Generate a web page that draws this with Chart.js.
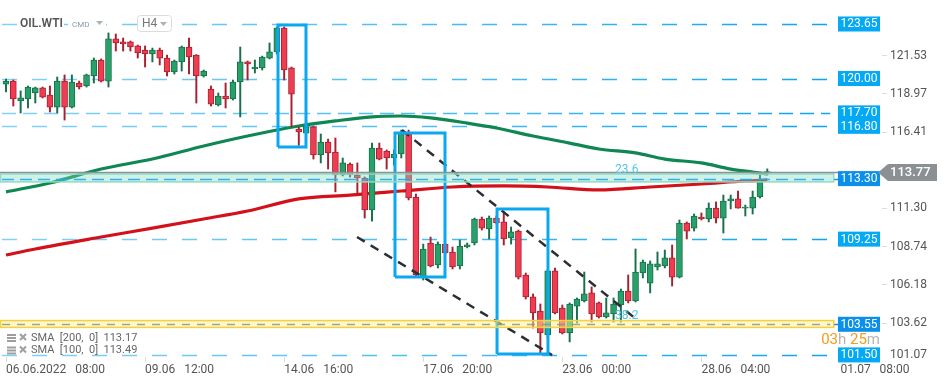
<!DOCTYPE html>
<html>
<head>
<meta charset="utf-8">
<script src="https://cdn.jsdelivr.net/npm/chart.js@4.4.0/dist/chart.umd.min.js"></script>
<style>
  html, body { margin: 0; padding: 0; background: #fff; }
  canvas { display: block; }
</style>
</head>
<body>
<canvas id="chart" width="949" height="385"></canvas>
<script>
// H4 candles, OIL.WTI, 06.06.2022 08:00 onwards
const opens = [
  119.63, 119.83, 118.50, 118.63, 119.03, 119.37, 118.90, 118.09, 119.83, 118.09,
  119.70, 119.50, 120.17, 121.24, 119.83, 122.65, 122.45, 122.45, 122.18, 121.91,
  121.64, 121.91, 121.37, 120.44, 121.11, 122.11, 121.57, 120.17, 119.30, 118.23,
  118.83, 118.63, 119.77, 121.11, 120.64, 120.71, 121.37, 121.78, 123.38, 120.71,
  116.62, 116.35, 116.76, 114.88, 115.75, 115.08, 113.54, 114.28, 113.54, 113.34,
  111.20, 115.35, 115.15, 114.68, 114.95, 116.35, 112.07, 106.71, 108.99, 107.52,
  108.92, 108.39, 107.45, 108.72, 108.99, 110.60, 109.93, 110.66, 110.40, 109.33,
  109.79, 106.85, 105.38, 104.44, 102.83, 107.12, 104.64, 102.97, 104.77, 105.11,
  105.65, 104.98, 104.04, 104.24, 104.84, 105.78, 105.11, 106.98, 106.31, 107.39,
  107.45, 107.99, 106.71, 110.33, 109.99, 110.73, 110.60, 111.33, 110.66, 111.80,
  111.94, 111.33, 111.33, 112.07, 113.66
];
const highs = [
  119.97, 119.90, 119.17, 119.50, 119.43, 119.43, 119.50, 120.10, 120.24, 120.24,
  119.83, 120.30, 121.37, 121.31, 123.05, 122.98, 122.71, 122.51, 122.24, 122.18,
  122.04, 122.04, 121.57, 121.24, 122.18, 122.71, 121.60, 120.57, 119.50, 119.03,
  119.70, 119.90, 122.11, 121.17, 121.24, 121.50, 122.38, 123.45, 123.45, 120.77,
  116.76, 117.22, 116.82, 116.29, 115.95, 116.02, 114.68, 114.35, 114.35, 113.41,
  115.68, 115.68, 115.22, 115.22, 116.55, 116.55, 112.27, 108.92, 109.39, 109.06,
  108.99, 108.72, 109.19, 108.99, 110.66, 110.73, 110.80, 110.80, 111.07, 110.06,
  109.86, 106.98, 105.58, 104.91, 107.18, 107.32, 104.84, 104.98, 105.31, 107.05,
  106.05, 105.04, 105.31, 105.31, 105.91, 106.85, 108.59, 107.85, 107.79, 108.39,
  108.52, 108.86, 110.53, 110.40, 110.93, 111.00, 111.67, 111.74, 112.20, 112.20,
  112.47, 111.53, 112.47, 113.54, 113.95
];
const lows = [
  119.10, 118.16, 117.69, 118.03, 118.36, 118.70, 117.76, 117.69, 117.22, 118.03,
  119.30, 119.43, 119.70, 119.77, 119.43, 121.84, 121.84, 121.84, 121.37, 120.77,
  121.11, 120.91, 120.17, 120.30, 120.50, 120.30, 118.36, 120.10, 118.16, 118.16,
  118.03, 118.56, 117.43, 119.90, 120.37, 120.57, 121.31, 121.64, 119.90, 116.76,
  115.53, 116.22, 114.61, 114.35, 113.94, 112.41, 113.48, 113.41, 112.34, 110.66,
  110.46, 114.55, 113.94, 114.21, 114.68, 111.87, 106.71, 106.51, 107.39, 107.32,
  108.19, 107.25, 107.25, 108.66, 108.86, 109.86, 109.26, 110.26, 108.86, 108.92,
  106.58, 105.24, 103.30, 101.63, 102.63, 104.24, 102.90, 102.37, 103.64, 105.04,
  103.70, 103.97, 103.97, 103.70, 103.70, 104.98, 105.04, 106.65, 105.65, 107.18,
  107.32, 106.11, 106.65, 109.26, 109.79, 110.53, 110.40, 110.33, 109.66, 111.27,
  111.33, 110.80, 110.93, 112.00, 113.54
];
const closes = [
  119.83, 118.63, 118.70, 119.43, 119.37, 118.76, 118.09, 119.83, 118.09, 119.77,
  119.43, 120.24, 121.24, 119.83, 122.65, 122.38, 122.31, 122.11, 121.71, 121.64,
  121.91, 121.37, 120.44, 121.17, 122.11, 121.44, 120.17, 120.50, 118.29, 118.83,
  118.63, 119.77, 121.11, 120.97, 120.77, 121.44, 121.78, 123.38, 120.57, 118.96,
  116.42, 116.76, 114.88, 115.75, 115.02, 113.54, 114.35, 113.54, 113.34, 111.20,
  115.35, 114.61, 114.68, 114.95, 116.42, 112.00, 106.85, 108.59, 107.45, 108.92,
  108.32, 107.39, 108.79, 108.86, 110.60, 109.99, 110.66, 110.33, 109.26, 109.73,
  106.71, 105.38, 104.31, 102.97, 107.12, 104.31, 102.97, 104.91, 105.24, 105.58,
  104.24, 104.04, 104.31, 104.91, 105.78, 105.11, 107.05, 107.72, 107.59, 107.59,
  107.99, 106.71, 110.33, 109.79, 110.80, 110.60, 111.33, 110.66, 111.80, 111.94,
  111.33, 111.40, 112.07, 113.14, 113.77
];

// moving averages, read at some candles
const sma100Idx = [0, 6, 13, 20, 27, 33, 40, 45, 50, 54, 58, 63, 67, 72, 77, 81, 86, 90, 95, 99, 102, 104];
const sma100Val = [112.41, 113.01, 113.94, 114.61, 115.48, 116.15, 116.82, 117.16, 117.43, 117.49, 117.36,
                   117.02, 116.69, 116.15, 115.68, 115.28, 115.02, 114.61, 114.35, 113.94, 113.74, 113.61];
const sma200Idx = [0, 4, 13, 20, 27, 33, 40, 47, 54, 61, 68, 74, 81, 88, 95, 101, 104];
const sma200Val = [108.19, 108.59, 109.39, 109.99, 110.60, 111.13, 111.94, 112.20, 112.47, 112.74, 112.81,
                   112.74, 112.54, 112.74, 112.94, 113.14, 113.21];

// x axis
const xTickIndex = [0, 19, 38, 57, 76, 95, 114];
const xTickLabels = ['06.06.2022   08:00', '09.06   12:00', '14.06   16:00', '17.06   20:00',
                     '23.06   00:00', '28.06   04:00', '01.07   08:00'];
// y axis
const yTickValues = [121.53, 118.97, 116.41, 111.30, 108.74, 106.18, 103.62];
const yEdgeTick = 101.07;
const lastPrice = 113.77;

// drawn levels, zones and channel
const levelValues = [123.65, 120.00, 117.70, 116.80, 113.30, 109.25, 103.55, 101.50];
const tealZone = [113.08, 113.61];
const yellowZone = [103.34, 103.80];
const trendUpperX = [54.1, 85.9], trendUpperY = [116.55, 103.97];
const trendLowerX = [47.95, 74.6], trendLowerY = [109.39, 101.49];
const box1X = [37.16, 40.98], box1Y = [115.42, 123.58];
const box2X = [53.14, 59.97], box2Y = [106.72, 116.35];
const box3X = [67.08, 74.04], box3Y = [101.56, 111.27];
const fibText = ['23.6', '38.2'];
const fibIdx = [83.2, 83.2];
const fibVal = [113.88, 104.11];
const smaLegend = ['SMA  [200,  0]  113.17', 'SMA  [100,  0]  113.49'];

// styles
const UP = '#27a06a', UP_LINE = '#17704a';
const DOWN = '#f03c50', DOWN_LINE = '#a8202f';
const FONT = 'Roboto, "Open Sans", sans-serif';
const levelEndIdx = 112.6;
const levelDash = [[15, 15], [15, 15], [14, 7], [15, 15], [12, 6], [15, 15], [8, 7], [15, 15]];
const levelBoxColor = ['#03a9f4', '#03a9f4', '#03a9f4', '#03a9f4', '#0a90ea', '#03a9f4', '#0a90ea', '#03a9f4'];
const inZone = [false, false, false, false, true, false, true, false];

const candles = opens.map((o, i) => ({ i, o, h: highs[i], l: lows[i], c: closes[i], up: closes[i] >= o }));

function rect(xs, ys) {
  return [
    { x: xs[0], y: ys[0] }, { x: xs[1], y: ys[0] }, { x: xs[1], y: ys[1] },
    { x: xs[0], y: ys[1] }, { x: xs[0], y: ys[0] }
  ];
}
function seg(xs, ys) {
  return xs.map((v, k) => ({ x: v, y: ys[k] }));
}

const boxStyle = {
  type: 'line', borderColor: '#0aa8f0', borderWidth: 3, pointRadius: 0,
  tension: 0, borderJoinStyle: 'miter', order: 0
};
const trendStyle = {
  type: 'line', borderColor: '#2b2f33', borderWidth: 2.5, borderDash: [9, 7],
  pointRadius: 0, tension: 0, order: 1
};

function drawZone(ctx, x0, x1, yTop, yBot, fill, line) {
  ctx.fillStyle = fill;
  ctx.fillRect(x0, yTop, x1 - x0, yBot - yTop);
  ctx.strokeStyle = line;
  ctx.lineWidth = 1.5;
  ctx.setLineDash([]);
  ctx.strokeRect(x0 + 0.5, yTop, x1 - x0 - 1, yBot - yTop);
}

function drawLevel(ctx, k, x0, x1, y) {
  const py = Math.round(y.getPixelForValue(levelValues[k])) + 0.5;
  ctx.setLineDash(levelDash[k]);
  ctx.beginPath();
  ctx.moveTo(x0, py);
  ctx.lineTo(x1, py);
  ctx.stroke();
  return py;
}

const overlay = {
  id: 'overlay',
  beforeDatasetsDraw(chart) {
    const { ctx, chartArea: a, scales: { x, y } } = chart;
    const xEnd = x.getPixelForValue(levelEndIdx);
    ctx.save();
    const grad = ctx.createLinearGradient(0, 0, xEnd, 0);
    grad.addColorStop(0, 'rgba(90,195,245,0.75)');
    grad.addColorStop(1, 'rgba(10,165,240,1)');
    ctx.strokeStyle = grad;
    ctx.lineWidth = 1.5;
    levelValues.forEach((v, k) => {
      if (!inZone[k]) drawLevel(ctx, k, a.left + 2, xEnd, y);
    });
    ctx.restore();
  },
  afterDatasetsDraw(chart) {
    const { ctx, chartArea: a, scales: { x, y } } = chart;
    const xEnd = x.getPixelForValue(levelEndIdx);
    const zoneRight = xEnd + 4;
    ctx.save();

    // zones
    drawZone(ctx, a.left, zoneRight, y.getPixelForValue(tealZone[1]), y.getPixelForValue(tealZone[0]),
      'rgba(125,220,195,0.38)', '#8fdcc6');
    drawZone(ctx, a.left, zoneRight, y.getPixelForValue(yellowZone[1]), y.getPixelForValue(yellowZone[0]),
      'rgba(255,238,150,0.5)', '#f3d23c');

    // levels inside zones
    ctx.lineWidth = 1.5;
    levelValues.forEach((v, k) => {
      if (!inZone[k]) return;
      ctx.strokeStyle = levelValues[k] > 110 ? 'rgba(40,170,235,0.9)' : 'rgba(120,150,140,0.8)';
      drawLevel(ctx, k, a.left + 2, xEnd, y);
    });

    // current price line
    const pyLast = Math.round(y.getPixelForValue(lastPrice)) + 0.5;
    ctx.setLineDash([]);
    ctx.strokeStyle = '#8c9194';
    ctx.lineWidth = 1.5;
    ctx.beginPath();
    ctx.moveTo(a.left, pyLast);
    ctx.lineTo(a.right - 4, pyLast);
    ctx.stroke();

    // level boxes
    ctx.font = '12px ' + FONT;
    ctx.textAlign = 'center';
    ctx.textBaseline = 'middle';
    const bx = a.right - 44;
    levelValues.forEach((v, k) => {
      const py = y.getPixelForValue(v);
      if (inZone[k]) {
        ctx.strokeStyle = levelBoxColor[k];
        ctx.lineWidth = 1.5;
        ctx.beginPath();
        ctx.moveTo(zoneRight, Math.round(py) + 0.5);
        ctx.lineTo(bx, Math.round(py) + 0.5);
        ctx.stroke();
      }
      ctx.fillStyle = levelBoxColor[k];
      ctx.fillRect(bx, py - 7.5, 42, 15);
      ctx.fillStyle = '#fff';
      ctx.fillText(v.toFixed(2), bx + 21, py + 0.5);
    });

    // price tag
    ctx.fillStyle = '#8a9093';
    ctx.beginPath();
    ctx.moveTo(a.right - 4, pyLast);
    ctx.lineTo(a.right + 6, pyLast - 8.5);
    ctx.lineTo(a.right + 55, pyLast - 8.5);
    ctx.lineTo(a.right + 55, pyLast + 8.5);
    ctx.lineTo(a.right + 6, pyLast + 8.5);
    ctx.closePath();
    ctx.fill();
    ctx.fillStyle = '#fff';
    ctx.font = '500 13px ' + FONT;
    ctx.textAlign = 'left';
    ctx.fillText(lastPrice.toFixed(2), a.right + 8, pyLast + 0.5);

    // bottom edge tick that sits below the plotted range
    ctx.font = '12px ' + FONT;
    ctx.fillStyle = '#555';
    ctx.fillText(yEdgeTick.toFixed(2), a.right + 8, a.bottom - 2);

    // fib labels
    ctx.fillStyle = '#55c2f5';
    ctx.font = '12px ' + FONT;
    fibText.forEach((t, k) => {
      ctx.fillText(t, x.getPixelForValue(fibIdx[k]), y.getPixelForValue(fibVal[k]));
    });

    // countdown
    ctx.font = '15px ' + FONT;
    ctx.textAlign = 'left';
    const parts = [['03', '#f59b1a'], ['h ', '#b5b5b5'], ['25', '#f59b1a'], ['m', '#b5b5b5']];
    let total = parts.reduce((s, p) => s + ctx.measureText(p[0]).width, 0);
    let tx = a.right - 2 - total;
    parts.forEach(p => {
      ctx.fillStyle = p[1];
      ctx.fillText(p[0], tx, 340);
      tx += ctx.measureText(p[0]).width;
    });

    // header
    ctx.fillStyle = 'rgba(255,255,255,0.95)';
    ctx.fillRect(18, 16, 46, 15);
    ctx.fillRect(68, 18, 38, 12);
    ctx.font = '600 12px ' + FONT;
    ctx.fillStyle = '#555';
    ctx.fillText('OIL.WTI', 20, 24);
    ctx.font = '8px ' + FONT;
    ctx.fillStyle = '#8a9aa6';
    ctx.fillText('CMD', 72, 25);
    ctx.fillStyle = '#b0b0b0';
    ctx.beginPath();
    ctx.moveTo(96, 21); ctx.lineTo(103, 21); ctx.lineTo(99.5, 25); ctx.closePath(); ctx.fill();
    ctx.fillStyle = '#fff';
    ctx.strokeStyle = '#dcdcdc';
    ctx.lineWidth = 1;
    ctx.beginPath();
    ctx.roundRect(137.5, 15.5, 34, 16, 3);
    ctx.fill();
    ctx.stroke();
    ctx.fillStyle = '#777';
    ctx.font = '12px ' + FONT;
    ctx.fillText('H4', 142, 24);
    ctx.fillStyle = '#b0b0b0';
    ctx.beginPath();
    ctx.moveTo(160, 22); ctx.lineTo(167, 22); ctx.lineTo(163.5, 26); ctx.closePath(); ctx.fill();

    // indicator legend
    ctx.font = '11px ' + FONT;
    smaLegend.forEach((t, k) => {
      const ly = 338 + k * 12.5;
      ctx.fillStyle = '#9e9e9e';
      ctx.fillRect(7, ly - 4, 9, 2);
      ctx.fillRect(7, ly - 1, 9, 2);
      ctx.fillRect(7, ly + 2, 9, 2);
      ctx.strokeStyle = '#9e9e9e';
      ctx.lineWidth = 2;
      ctx.beginPath();
      ctx.moveTo(20, ly - 4); ctx.lineTo(26, ly + 2);
      ctx.moveTo(26, ly - 4); ctx.lineTo(20, ly + 2);
      ctx.stroke();
      ctx.fillStyle = '#666';
      ctx.fillText(t, 31, ly);
    });

    ctx.restore();
  }
};

Chart.defaults.font.family = FONT;

new Chart(document.getElementById('chart'), {
  type: 'bar',
  data: {
    datasets: [
      Object.assign({ data: rect(box1X, box1Y) }, boxStyle),
      Object.assign({ data: rect(box2X, box2Y) }, boxStyle),
      Object.assign({ data: rect(box3X, box3Y) }, boxStyle),
      Object.assign({ data: seg(trendUpperX, trendUpperY) }, trendStyle),
      Object.assign({ data: seg(trendLowerX, trendLowerY) }, trendStyle),
      {
        label: 'body',
        data: candles.map(k => ({ x: k.i, y: [k.o, k.c] })),
        backgroundColor: candles.map(k => k.up ? UP : DOWN),
        borderColor: candles.map(k => k.up ? UP_LINE : DOWN_LINE),
        borderWidth: 1,
        borderSkipped: false,
        barThickness: 6,
        grouped: false,
        order: 2
      },
      {
        label: 'wick',
        data: candles.map(k => ({ x: k.i, y: [k.l, k.h] })),
        backgroundColor: candles.map(k => k.up ? UP_LINE : DOWN_LINE),
        borderWidth: 0,
        barThickness: 1.3,
        grouped: false,
        order: 3
      },
      {
        type: 'line', label: 'SMA 100',
        data: seg(sma100Idx, sma100Val),
        borderColor: '#0f8752', borderWidth: 3.2, pointRadius: 0,
        cubicInterpolationMode: 'monotone', order: 4
      },
      {
        type: 'line', label: 'SMA 200',
        data: seg(sma200Idx, sma200Val),
        borderColor: '#d3111a', borderWidth: 3.2, pointRadius: 0,
        cubicInterpolationMode: 'monotone', order: 5
      }
    ]
  },
  options: {
    responsive: false,
    animation: false,
    events: [],
    layout: { padding: 0 },
    plugins: { legend: { display: false }, tooltip: { enabled: false } },
    scales: {
      x: {
        type: 'linear',
        min: -0.82,
        max: 119.67,
        offset: false,
        grid: { drawOnChartArea: false, drawTicks: true, tickLength: 5, color: '#dcdcdc', offset: false },
        border: { display: false },
        afterBuildTicks: s => { s.ticks = xTickIndex.map(v => ({ value: v })); },
        afterFit: s => { s.height = 28; s.paddingLeft = 0; s.paddingRight = 0; },
        ticks: {
          autoSkip: false,
          maxRotation: 0,
          align: 'start',
          padding: 1,
          color: '#555',
          font: { size: 12 },
          callback: v => {
            const k = xTickIndex.indexOf(v);
            return k >= 0 ? xTickLabels[k] : '';
          }
        }
      },
      y: {
        position: 'right',
        min: 101.36,
        max: 125.256,
        grid: { drawOnChartArea: false, drawTicks: true, tickLength: 5, color: '#dcdcdc' },
        border: { display: false },
        afterBuildTicks: s => { s.ticks = yTickValues.map(v => ({ value: v })); },
        afterFit: s => { s.width = 67; s.paddingTop = 0; s.paddingBottom = 0; },
        ticks: {
          padding: 3,
          color: '#555',
          font: { size: 12 },
          callback: v => Number(v).toFixed(2)
        }
      }
    }
  },
  plugins: [overlay]
});
</script>
</body>
</html>
